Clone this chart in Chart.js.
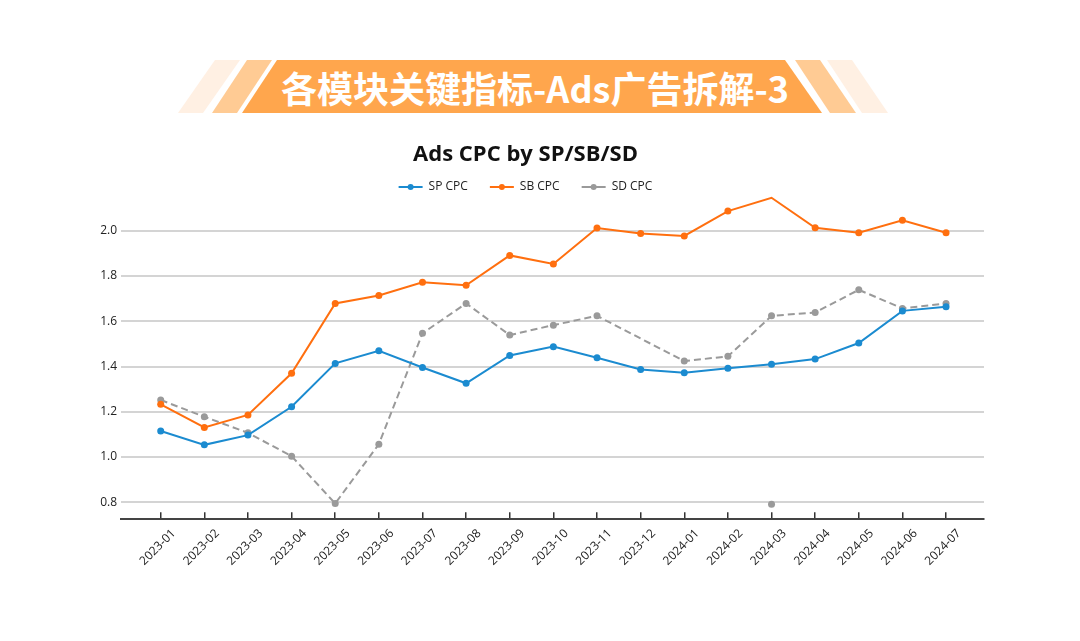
<!DOCTYPE html>
<html>
<head>
<meta charset="utf-8">
<script src="https://cdn.jsdelivr.net/npm/chart.js@4.4.1/dist/chart.umd.min.js"></script>
<style>
  html, body { margin:0; padding:0; background:#ffffff; width:1080px; height:641px; overflow:hidden; }
  #banner { position:absolute; left:0; top:0; width:1080px; height:130px; }
  #bannerText { position:absolute; left:0; width:1070px; top:64px; text-align:center;
    font-family:"Noto Sans CJK SC", sans-serif; font-weight:700; font-size:36px; color:#ffffff; line-height:46px; }
  #wrap { position:absolute; left:0; top:130px; width:1080px; height:450px; }
</style>
</head>
<body>
<svg id="banner" width="1080" height="130" xmlns="http://www.w3.org/2000/svg">
  <polygon points="215,60 240,60 203,113 178,113" fill="#FFF0E3"/>
  <polygon points="247,60 272,60 237,113 212,113" fill="#FFCB94"/>
  <polygon points="277,60 785,60 822,113 242,113" fill="#FFA64D"/>
  <polygon points="795,60 820,60 856,113 830,113" fill="#FFCB94"/>
  <polygon points="827,60 852,60 888,113 862,113" fill="#FFF0E3"/>
</svg>
<div id="bannerText">各模块关键指标-Ads广告拆解-3</div>
<div id="wrap"><canvas id="c" width="1080" height="450"></canvas></div>
<script>
const months = ['2023-01','2023-02','2023-03','2023-04','2023-05','2023-06','2023-07','2023-08','2023-09','2023-10',
  '2023-11','2023-12','2024-01','2024-02','2024-03','2024-04','2024-05','2024-06','2024-07'];
const spCpc = [1.115,1.054,1.097,1.222,1.414,1.470,1.396,1.326,1.449,1.488,1.439,1.387,1.373,1.392,1.410,1.433,1.504,1.646,1.664];
const sbCpc = [1.233,1.131,1.186,1.370,1.679,1.714,1.772,1.759,1.891,1.853,2.012,1.988,1.977,2.087,2.146,2.013,1.991,2.046,1.991];
const sdCpc = [1.252,1.178,1.107,1.004,0.795,1.057,1.547,1.679,1.539,1.583,1.624,null,1.424,1.445,1.624,1.639,1.739,1.657,1.679];
const sdOutlierMonths = ['2024-03'];
const sdOutlierValues = [0.792];
const yTickValues = [0.8,1.0,1.2,1.4,1.6,1.8,2.0];

const toPts = arr => arr.map((v,i) => ({x:i, y:v}));
const outlierPts = sdOutlierMonths.map((m,k) => ({x: months.indexOf(m), y: sdOutlierValues[k]}));

const FONT = '"Open Sans", "Noto Sans", sans-serif';
Chart.defaults.font.family = FONT;
Chart.defaults.color = '#222222';

const dotPlugin = {
  id: 'legendDots',
  afterDraw(chart) {
    const lg = chart.legend;
    if (!lg || !lg.legendHitBoxes) return;
    const ctx = chart.ctx;
    lg.legendItems.forEach((item, i) => {
      const hb = lg.legendHitBoxes[i];
      const bw = lg.options.labels.boxWidth;
      const cx = hb.left + bw / 2;
      const cy = hb.top + hb.height / 2;
      ctx.save();
      ctx.fillStyle = item.strokeStyle;
      ctx.beginPath();
      ctx.arc(cx, cy, 3, 0, Math.PI * 2);
      ctx.fill();
      ctx.restore();
    });
  }
};

new Chart(document.getElementById('c'), {
  type: 'line',
  data: {
    datasets: [
      { label: 'SP CPC', data: toPts(spCpc), borderColor: '#1B8BD0', backgroundColor: '#1B8BD0',
        borderWidth: 2, pointRadius: 3.5, pointBorderWidth: 0, tension: 0, clip: false },
      { label: 'SB CPC', data: toPts(sbCpc), borderColor: '#FF6F0F', backgroundColor: '#FF6F0F',
        borderWidth: 2, pointRadius: 3.5, pointBorderWidth: 0, tension: 0, clip: false },
      { label: 'SD CPC', data: toPts(sdCpc), borderColor: '#9A9A9A', backgroundColor: '#9A9A9A',
        borderWidth: 2, borderDash: [7, 4], pointRadius: 3.5, pointBorderWidth: 0, tension: 0, spanGaps: true, clip: false },
      { label: 'SD outlier', data: outlierPts, borderColor: '#9A9A9A', backgroundColor: '#9A9A9A',
        showLine: false, pointRadius: 3.5, pointBorderWidth: 0, clip: false }
    ]
  },
  options: {
    responsive: false,
    animation: false,
    devicePixelRatio: 1,
    layout: { padding: { left: 67, right: 96, top: 0, bottom: 0 } },
    plugins: {
      title: { display: true, text: 'Ads CPC by SP/SB/SD', color: '#111111',
        font: { size: 22, weight: 'bold', family: FONT }, padding: { top: 11.8, bottom: -9.2 } },
      legend: {
        display: true,
        labels: {
          boxWidth: 24, boxHeight: 2, padding: 22, color: '#222222', font: { size: 12 },
          filter: item => item.text !== 'SD outlier',
          generateLabels(chart) {
            const items = Chart.defaults.plugins.legend.labels.generateLabels(chart);
            items.forEach(it => { it.lineDash = []; it.lineWidth = 0; });
            return items;
          }
        }
      },
      tooltip: { enabled: false }
    },
    scales: {
      x: {
        type: 'linear', min: -0.91, max: 18.87,
        afterBuildTicks(axis) { axis.ticks = months.map((m, i) => ({ value: i })); },
        afterFit(scale) { scale.height = 60.7; },
        ticks: { callback: v => months[v], minRotation: 45, maxRotation: 45, autoSkip: false,
          font: { size: 12 }, color: '#222222', padding: 14, labelOffset: 13 },
        grid: { drawOnChartArea: false, drawTicks: true, tickLength: -7, color: '#333333', lineWidth: 1.5 },
        border: { display: true, color: '#444444', width: 2 }
      },
      y: {
        min: 0.725, max: 2.1227,
        afterBuildTicks(axis) { axis.ticks = yTickValues.map(v => ({ value: v })); },
        afterFit(scale) { scale.width = 54; },
        ticks: { callback: v => v.toFixed(1), font: { size: 12 }, color: '#222222', padding: 4 },
        grid: { drawTicks: false, color: '#D4D4D4', lineWidth: 2 },
        border: { display: false }
      }
    }
  },
  plugins: [dotPlugin]
});
</script>
</body>
</html>
